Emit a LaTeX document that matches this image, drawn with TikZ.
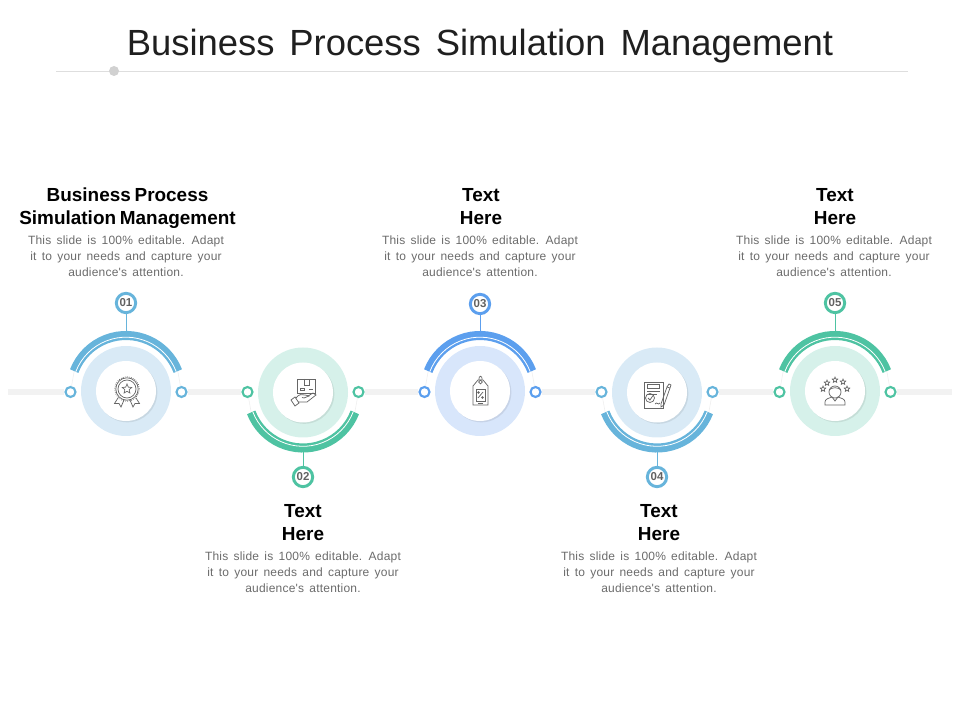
\documentclass[tikz,border=0pt]{standalone}
\usepackage{fontspec}
\usepackage{tikz}
\usetikzlibrary{shapes.geometric,shadows}
\setmainfont{Liberation Sans}
\newfontfamily\bodyfont[LetterSpace=1.7,WordSpace=1.5]{Liberation Sans}
\definecolor{skyarc}{HTML}{67B4DB}
\definecolor{skydisc}{HTML}{D9EAF6}
\definecolor{bluearc}{HTML}{5C9FEE}
\definecolor{bluedisc}{HTML}{D8E6FB}
\definecolor{greenarc}{HTML}{4EC3A2}
\definecolor{greendisc}{HTML}{D6F1EA}
\definecolor{iconline}{HTML}{666666}
\newcommand{\slidetext}{This slide is 100\% editable. Adapt\\it to your needs and capture your\\audience's attention.}
\newcommand{\titlesize}{\fontsize{27.3}{32}\selectfont\spaceskip 11.2pt\relax}
\newcommand{\headsize}{\bfseries\fontsize{14.2}{17.25}\selectfont\spaceskip .2em\relax}

\begin{document}
\begin{tikzpicture}
[x=0.75pt,y=0.75pt,%%%%%%%%%%%%%%%%%%%%%%%%%%%%%%
disc/.style={circle,inner sep=0pt,minimum size=67.5pt},
face/.style={circle,fill=white,inner sep=0pt,minimum size=45pt,drop shadow={shadow xshift=1pt,shadow yshift=-1pt,opacity=.08,fill=black}},
dot/.style={circle,draw,fill=white,line width=1.6pt,inner sep=0pt,minimum size=7.5pt},
numbox/.style={circle,draw,fill=white,line width=2.2pt,inner sep=0pt,minimum size=14.5pt,text=black!62,font=\bfseries\fontsize{8.6}{10}\selectfont},
band/.style={line width=6.8pt},
bar/.style={line width=5pt,color=black!5},
faint/.style={line width=.5pt,color=black!6},
head/.style={align=center,font=\headsize},
body/.style={align=center,text=black!58,font=\bodyfont\fontsize{9}{12}\selectfont},
icon/.style={draw=iconline,line width=.55pt},
tinystar/.style={star,star points=5,star point ratio=2.2,draw=iconline,line width=.5pt,inner sep=0pt,minimum size=4.4pt},
]%%%%%%%%%%%%%%%%%%%%%%%%%%%%%%
\useasboundingbox (0,0) rectangle (960,720);

\node[font=\titlesize,text=black!88] (title) at (480,673.5) {Business Process Simulation Management};
\coordinate (ruleleft) at (56,649);
\coordinate (ruleright) at (908,649);
\draw[line width=.6pt,color=black!13] (ruleleft) -- (ruleright);
\node[circle,fill=black!18,inner sep=0pt,minimum size=7.5pt] (ruledot) at (114,649) {};

\foreach \n/\cx/\cy/\ang/\sgn/\ny/\main/\pale in {1/126/329/21/1/417/skyarc/skydisc,
2/303/327.5/201/-1/243/greenarc/greendisc,
3/480/329/21/1/416/bluearc/bluedisc,
4/657/327.5/201/-1/243/skyarc/skydisc,
5/835/329/21/1/417/greenarc/greendisc}{
\node[disc,fill=\pale] (disc\n) at (\cx,\cy) {};
\node[face] (face\n) at (\cx,\cy) {};
\node[dot,draw=\main] (left\n) at (\cx-55.5,328) {};
\node[dot,draw=\main] (right\n) at (\cx+55.5,328) {};
\node[numbox,draw=\main] (num\n) at (\cx,\ny) {0\n};
\coordinate (tip\n) at (\cx,\cy+\sgn*60);
\coordinate (endl\n) at (\cx-51.8,\cy+\sgn*19.9);
\coordinate (endr\n) at (\cx+51.8,\cy+\sgn*19.9);
\draw[faint] (left\n) -- (endl\n);
\draw[faint] (right\n) -- (endr\n);
\draw[band,color=\main] (\cx,\cy) ++(\ang:55.5) arc[start angle=\ang,delta angle=138,radius=55.5];
\draw[line width=.6pt,color=white] (\cx,\cy) ++(\ang:53.8) arc[start angle=\ang,delta angle=138,radius=53.8];
\draw[line width=.7pt,color=\main] (num\n) -- (tip\n);
}

\coordinate (barstart) at (8,328);
\coordinate (barend) at (952,328);
\draw[bar] (barstart) -- (left1);
\draw[bar] (right1) -- (left2);
\draw[bar] (right2) -- (left3);
\draw[bar] (right3) -- (left4);
\draw[bar] (right4) -- (left5);
\draw[bar] (right5) -- (barend);

\node[head] (head1) at (127.5,512) {Business Process\\Simulation Management};
\node[head] (head2) at (303,197.5) {Text\\Here};
\node[head] (head3) at (481,513.5) {Text\\Here};
\node[head] (head4) at (659,197.5) {Text\\Here};
\node[head] (head5) at (835,513.5) {Text\\Here};
\node[body] (body1) at (126,464) {\slidetext};
\node[body] (body2) at (303,148) {\slidetext};
\node[body] (body3) at (480,464) {\slidetext};
\node[body] (body4) at (659,148) {\slidetext};
\node[body] (body5) at (834,464) {\slidetext};

% medal
\draw[icon,densely dotted] (127,331) circle (12.3);
\draw[icon] (127,331) circle (11.2);
\draw[icon] (127,331) circle (9);
\node[tinystar,minimum size=7.5pt] (medalstar) at (127,331) {};
\draw[icon] (118,322) -- (114.5,316.5) -- (119,316.5) -- (121,313) -- (124,320);
\draw[icon] (136,322) -- (139.5,316.5) -- (135,316.5) -- (133,313) -- (130,320);

% box and hand
\draw[icon] (297,327) rectangle (315,341);
\draw[icon] (304,341) -- (304,335) -- (309,335) -- (309,341);
\draw[icon] (300,330) rectangle (304,332);
\draw[icon] (309,330.5) -- (313,330.5);
\draw[icon] (291,320) -- (295,314) -- (299,317) -- (295,323) -- cycle;
\draw[icon] (296,322) .. controls (299,326) and (302,326) .. (305,325) -- (309,324) -- (304,322) -- (302,322.5);
\draw[icon] (298,318) -- (307,318) -- (316,325) -- (313,327) -- (308,324);

% tag with percent
\draw[icon] (473,334) -- (478,340) -- (483,340) -- (488,334) -- (488,315) -- (473,315) -- cycle;
\draw[icon] (480.5,338) circle (1.8);
\draw[icon] (479,340) .. controls (478,345) and (483,345) .. (482,340);
\draw[icon] (476,319) rectangle (485,331);
\draw[icon] (478,322) -- (483,328);
\draw[icon] (478.5,327.5) circle (.9);
\draw[icon] (482.5,322.5) circle (.9);
\draw[icon] (478,317) -- (483,317);

% document and pen
\draw[icon] (644,338) rectangle (663,312);
\draw[icon] (647,332) rectangle (659,335.5);
\draw[icon] (647,329) -- (660,329);
\draw[icon] (647,326) -- (657,326);
\draw[icon] (650,322) circle (4.5);
\draw[icon] (648,322) -- (650,320) -- (653,324.5);
\draw[icon] (655,316) .. controls (657,319) and (658,314) .. (660,317);
\draw[icon] (661,316) -- (667,333) -- (670,332) -- (664,315) -- (661,313) -- cycle;
\draw[icon] (667,333) -- (669,336) -- (671,335) -- (670,332);

% person with stars
\draw[icon] (835,328) circle (6);
\draw[icon] (829,330) .. controls (832,333) and (838,333) .. (841,330);
\draw[icon] (825,315) -- (825,318) .. controls (825,321) and (829,322) .. (832,323) -- (835,319) -- (838,323) .. controls (841,322) and (845,321) .. (845,318) -- (845,315) -- cycle;
\node[tinystar] (star1) at (823,331) {};
\node[tinystar] (star2) at (827,337) {};
\node[tinystar] (star3) at (835,340) {};
\node[tinystar] (star4) at (843,338) {};
\node[tinystar] (star5) at (847,331) {};
\end{tikzpicture}
\end{document}
